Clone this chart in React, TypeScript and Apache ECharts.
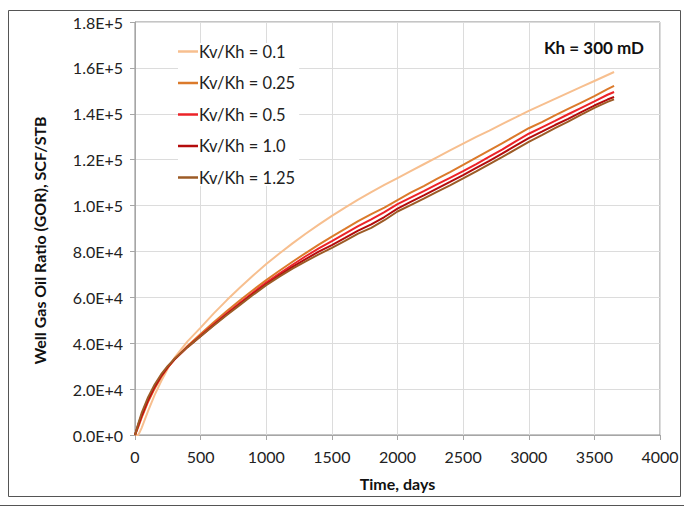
import React, { useEffect, useRef } from "react";
import * as echarts from "echarts";

const days = [0, 25, 50, 100, 150, 200, 250, 300, 400, 500, 600, 700, 800, 900, 1000, 1100, 1200, 1300, 1400, 1500, 1600, 1700, 1800, 1900, 2000, 2100, 2200, 2300, 2400, 2500, 2600, 2700, 2800, 2900, 3000, 3100, 3200, 3300, 3400, 3500, 3600, 3650];

// GOR values in thousands SCF/STB
const gor01 = [0, 0, 3, 10.5, 17.5, 23.5, 29, 33.6, 40.8, 46.8, 53, 58.8, 64.3, 69.5, 74.5, 79.1, 83.5, 87.7, 91.7, 95.5, 99.1, 102.6, 105.9, 109, 112, 115, 118, 121, 124, 127, 129.9, 132.7, 135.6, 138.4, 141.3, 143.9, 146.5, 149.1, 151.7, 154.3, 156.9, 158.2];
const gor025 = [0, 3.5, 7.5, 14.5, 20.3, 25.3, 29.5, 33, 38.8, 44, 49.1, 54, 58.7, 63.2, 67.5, 71.6, 75.5, 79.3, 83, 86.5, 89.8, 93.2, 96.3, 99.1, 102.4, 105.6, 108.5, 111.6, 114.6, 117.7, 120.9, 124.1, 127.2, 130.5, 133.7, 136.4, 139.3, 142.1, 144.9, 147.7, 150.7, 152.2];
const gor05 = [0, 4, 8, 15, 20.8, 25.6, 29.6, 32.9, 38.5, 43.4, 48.3, 53, 57.6, 62.1, 66.4, 70.4, 74.2, 77.9, 81.3, 84.5, 87.8, 91, 94, 97.1, 100.6, 103.5, 106.3, 109.2, 112.1, 115, 118.1, 121.3, 124.5, 128, 131.3, 134.1, 136.9, 139.8, 142.6, 145.4, 148.3, 149.5];
const gor10 = [0, 4.5, 8.5, 15.5, 21.2, 25.9, 29.7, 32.9, 38.3, 43.1, 47.9, 52.6, 57.1, 61.5, 65.7, 69.6, 73.3, 76.7, 79.9, 82.8, 85.9, 89.1, 91.8, 95, 98.7, 101.6, 104.4, 107.4, 110.3, 113.3, 116.4, 119.5, 122.7, 126.1, 129.4, 132.2, 135.1, 137.8, 140.7, 143.6, 146.2, 147.3];
const gor125 = [0, 5, 9.5, 16.5, 22, 26.5, 30.1, 33.1, 38.3, 43, 47.7, 52.3, 56.7, 61.1, 65.3, 69, 72.5, 75.7, 78.7, 81.6, 84.6, 87.8, 90.3, 93.6, 97.4, 100.2, 103, 106, 108.8, 111.8, 114.9, 118.1, 121.2, 124.5, 127.8, 130.7, 133.7, 136.6, 139.6, 142.6, 145.2, 146.3];

const seriesNames = ["Kv/Kh = 0.1", "Kv/Kh = 0.25", "Kv/Kh = 0.5", "Kv/Kh = 1.0", "Kv/Kh = 1.25"];
const seriesValues = [gor01, gor025, gor05, gor10, gor125];
const seriesColors = ["#F7BF8F", "#DB7A2B", "#EC2328", "#B40C0C", "#9C5B26"];

const FONT = "Lato, 'Open Sans', sans-serif";

export default function App() {
  const ref = useRef<HTMLDivElement>(null);
  useEffect(() => {
    if (!ref.current) return;
    const chart = echarts.init(ref.current, null, { renderer: "svg" });
    chart.setOption({
      animation: false,
      backgroundColor: "#fff",
      textStyle: { fontFamily: FONT },
      title: {
        text: "Kh = 300 mD",
        right: 35,
        top: 34,
        textStyle: { fontFamily: FONT, fontSize: 17, fontWeight: "bold", color: "#111" },
      },
      legend: {
        orient: "vertical",
        left: 178,
        top: 43,
        itemWidth: 20,
        itemHeight: 2.5,
        itemGap: 14.5,
        icon: "rect",
        backgroundColor: "#fff",
        padding: [0, 4, 0, 0],
        textStyle: { fontFamily: FONT, fontSize: 16.5, color: "#222", lineHeight: 16, padding: [0, 0, 0, -4] },
        data: seriesNames,
      },
      grid: {
        left: 135,
        right: 24,
        top: 22,
        bottom: 73,
        show: true,
        borderColor: "#8a8a8a",
        borderWidth: 1,
      },
      xAxis: {
        type: "value",
        min: 0,
        max: 4000,
        interval: 500,
        name: "Time, days",
        nameLocation: "middle",
        nameGap: 40,
        nameTextStyle: { fontFamily: FONT, fontSize: 16, fontWeight: "bold", color: "#111" },
        axisLine: { show: true, lineStyle: { color: "#a6a6a6" } },
        axisTick: { show: true, length: 5, lineStyle: { color: "#a6a6a6" } },
        axisLabel: { fontFamily: FONT, fontSize: 16, color: "#222", margin: 13, formatter: (v: number) => String(v) },
        splitLine: { show: true, lineStyle: { color: "#dcdcdc" } },
      },
      yAxis: {
        type: "value",
        min: 0,
        max: 180000,
        interval: 20000,
        name: "Well Gas Oil Ratio (GOR), SCF/STB",
        nameLocation: "middle",
        nameGap: 88,
        nameTextStyle: { fontFamily: FONT, fontSize: 16, fontWeight: "bold", color: "#111", padding: [0, 24, 0, 0] },
        axisLine: { show: true, lineStyle: { color: "#a6a6a6" } },
        axisTick: { show: true, length: 5, lineStyle: { color: "#a6a6a6" } },
        axisLabel: {
          fontFamily: FONT,
          fontSize: 16,
          color: "#222",
          margin: 12,
          formatter: (v: number) => v.toExponential(1).replace("e", "E"),
        },
        splitLine: { show: true, lineStyle: { color: "#dcdcdc" } },
      },
      graphic: [
        {
          type: "rect",
          shape: { x: 8.5, y: 10.5, width: 672, height: 486 },
          style: { fill: "none", stroke: "#555", lineWidth: 1 },
          silent: true,
          z: -1,
        },
        {
          type: "line",
          shape: { x1: 0, y1: 505.5, x2: 684, y2: 505.5 },
          style: { stroke: "#555", lineWidth: 1 },
          silent: true,
        },
      ],
      series: seriesNames.map((name, i) => ({
        name,
        type: "line",
        showSymbol: false,
        symbol: "none",
        smooth: false,
        color: seriesColors[i],
        lineStyle: { width: 2, color: seriesColors[i] },
        data: days.map((d, j) => [d, seriesValues[i][j] * 1000]),
        z: 2 + i,
      })),
    });
    return () => chart.dispose();
  }, []);
  return <div ref={ref} style={{ position: "fixed", left: 0, top: 0, width: 684, height: 508 }} />;
}
